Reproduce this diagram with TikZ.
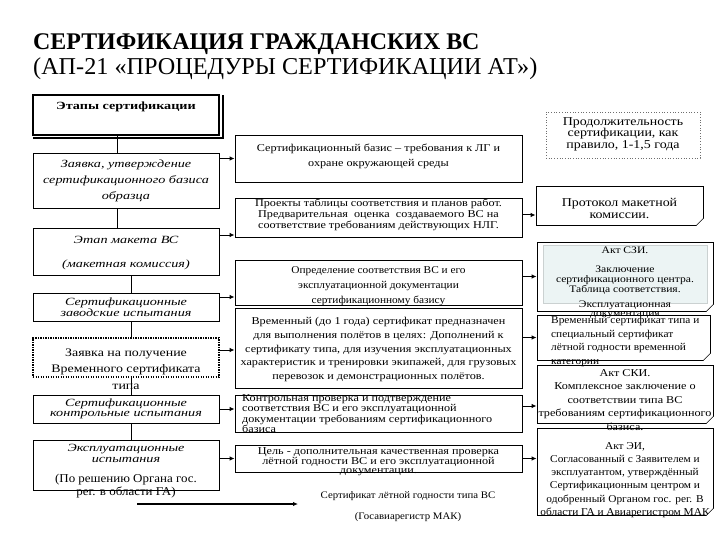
\documentclass[tikz,border=0pt]{standalone}
\usepackage{fontspec}
\setmainfont{Liberation Serif}
\newfontfamily\fa[FakeStretch=1.16]{Liberation Serif}
\newfontfamily\fb[FakeStretch=1.29]{Liberation Serif}
\newfontfamily\fc[FakeStretch=1.08]{Liberation Serif}
\newfontfamily\fd[FakeStretch=1.21]{Liberation Serif}
\usetikzlibrary{arrows.meta}
\definecolor{paleblue}{RGB}{236,244,244}
\definecolor{dotgray}{RGB}{110,110,110}
\begin{document}
\begin{tikzpicture}[x=1pt,y=-1pt,
  box/.style={draw, line width=0.8pt, inner sep=0pt},
  tx/.style={inner sep=0pt, align=center},
  lit/.style={tx, font=\fontsize{11}{16}\fb\itshape},
  mid/.style={tx, font=\fontsize{10.5}{15}\fa},
  rt/.style={tx, font=\fontsize{10.5}{13.5}\fa},
  link/.style={line width=0.8pt},
  arr/.style={line width=1pt, -{Latex[length=5pt,width=4.5pt]}},
  fold/.style={fill=white, line width=0.6pt}
]
\useasboundingbox (0,0) rectangle (720,540);

% title
\node[anchor=base west, inner sep=0pt, font=\fontsize{23.9}{24}\bfseries] (T1) at (33,50) {СЕРТИФИКАЦИЯ ГРАЖДАНСКИХ ВС};
\node[anchor=base west, inner sep=0pt, font=\fontsize{24.2}{24}\selectfont] (T2) at (33,75) {(АП-21 «ПРОЦЕДУРЫ СЕРТИФИКАЦИИ АТ»)};

% left column
\node[draw, line width=2.2pt, inner sep=0pt, minimum width=186, minimum height=40] (L0) at (126,115) {};
\draw[line width=2.2pt] ([xshift=1.5pt,yshift=-2pt]L0.south west) -- ([xshift=2.5pt,yshift=-2pt]L0.south east) -- ([xshift=2.5pt,yshift=-1pt]L0.north east);
\node[tx, font=\fontsize{11}{11}\fb\bfseries] (L0t) at (126,107) {Этапы сертификации};

\node[box, minimum width=186, minimum height=55] (L1) at (126,180.5) {};
\node[lit] (L1t) at (126,181) {Заявка, утверждение\\сертификационного базиса\\образца};

\node[box, minimum width=186, minimum height=47] (L2) at (126,251.5) {};
\node[lit] (L2a) at (126,240) {Этап макета ВС};
\node[lit] (L2b) at (126,265) {(макетная комиссия)};

\node[box, minimum width=186, minimum height=28] (L3) at (126,307) {};
\node[tx, font=\fontsize{11}{10.5}\fb\itshape] (L3t) at (126,307) {Сертификационные\\заводские испытания};

\node[draw, line width=1.7pt, dash pattern=on 1.4pt off 1.1pt, inner sep=0pt, minimum width=186, minimum height=39] (L4) at (126,357.5) {};
\node[tx, font=\fontsize{11.5}{16.5}\fd] (L4t) at (126,369) {Заявка на получение\\Временного сертификата\\типа};

\node[box, minimum width=186, minimum height=28] (L5) at (126,409) {};
\node[tx, font=\fontsize{11}{10.5}\fb\itshape] (L5t) at (126,409) {Сертификационные\\контрольные испытания};

\node[box, minimum width=186, minimum height=50] (L6) at (126,465) {};
\node[tx, font=\fontsize{11}{11}\fb\itshape] (L6a) at (126,453.5) {Эксплуатационные\\испытания};
\node[tx, font=\fontsize{12}{13}\fc] (L6b) at (126,486) {(По решению Органа гос.\\рег. в области ГА)};

\draw[link] ([xshift=-9pt]L0.south) -- ([xshift=-9pt]L1.north);
\draw[link] ([xshift=-9pt]L1.south) -- ([xshift=-9pt]L2.north);
\draw[link] ([xshift=5pt]L2.south) -- ([xshift=5pt]L3.north);
\draw[link] ([xshift=5pt]L3.south) -- ([xshift=5pt]L4.north);
\draw[link] ([xshift=5pt]L4.south) -- ([xshift=5pt]L5.north);
\draw[link] ([xshift=5pt]L5.south) -- ([xshift=5pt]L6.north);

% middle column
\node[box, minimum width=287, minimum height=47] (M1) at (378.5,158.5) {};
\node[mid] (M1t) at (378.5,156) {Сертификационный базис – требования к ЛГ и\\охране окружающей среды};

\node[box, minimum width=287, minimum height=39] (M2) at (378.5,217.5) {};
\node[tx, font=\fontsize{10.5}{11}\fa] (M2t) at (378.5,214.5) {Проекты таблицы соответствия и планов работ.\\Предварительная\ \ оценка\ \ создаваемого ВС на\\соответствие требованиям действующих НЛГ.};

\node[box, minimum width=287, minimum height=45] (M3) at (378.5,282.5) {};
\node[tx, font=\fontsize{10.5}{15}\fc] (M3t) at (378.5,286) {Определение соответствия ВС и его\\эксплуатационной документации\\сертификационному базису};

\node[box, minimum width=287, minimum height=80] (M4) at (378.5,348) {};
\node[tx, font=\fontsize{10.5}{13.8}\fa] (M4t) at (378.5,349.5) {Временный (до 1 года) сертификат предназначен\\для выполнения полётов в целях: Дополнений к\\сертификату типа, для изучения эксплуатационных\\характеристик и тренировки экипажей, для грузовых\\перевозок и демонстрационных полётов.};

\node[box, minimum width=287, minimum height=37] (M5) at (378.5,413.5) {};
\node[tx, align=left, anchor=west, font=\fontsize{10.5}{9.5}\fa] (M5t) at (242,414) {Контрольная проверка и подтверждение\\соответствия ВС и его эксплуатационной\\документации требованиям сертификационного\\базиса};

\node[box, minimum width=287, minimum height=27] (M6) at (378.5,458.5) {};
\node[tx, font=\fontsize{10.5}{9.5}\fa] (M6t) at (378.5,462) {Цель - дополнительная качественная проверка\\лётной годности ВС и его эксплуатационной\\документации.};

\node[tx, font=\fontsize{10}{10}\fc] (C1) at (408,496) {Сертификат лётной годности типа ВС};
\node[tx, font=\fontsize{10}{10}\fc] (C2) at (408,517) {(Госавиарегистр МАК)};

% right column
\node[draw=dotgray, dotted, line width=0.7pt, inner sep=0pt, minimum width=154, minimum height=46] (P) at (623,135) {};
\node[tx, font=\fontsize{12}{11.5}\fa] (Pt) at (623,134) {Продолжительность\\сертификации, как\\правило, 1-1,5 года};

\node[box, minimum width=167, minimum height=39] (Q) at (619.5,205.5) {};
\node[tx, font=\fontsize{12}{12}\fa] (Qt) at (619.5,208) {Протокол макетной\\комиссии.};

\node[box, minimum width=176, minimum height=69] (R1) at (625,276.5) {};
\node[fill=paleblue, draw=paleblue!70!gray, line width=0.4pt, inner sep=0pt, minimum width=164, minimum height=58] (R1i) at (625,274) {};
\node[tx, font=\fontsize{10}{10}\fa] (R1a) at (625,250) {Акт СЗИ.};
\node[tx, font=\fontsize{10}{10}\fa] (R1b) at (625,280) {Заключение\\сертификационного центра.\\Таблица соответствия.};

\node[box, minimum width=173, minimum height=45] (R2) at (623.5,337.5) {};
\node[tx, align=left, anchor=west, font=\fontsize{10.5}{13.7}\fc] (R2t) at (551,341.5) {Временный сертификат типа и\\специальный сертификат\\лётной годности временной\\категории};
\node[tx, font=\fontsize{10}{9}\fa] (R1c) at (625,309.5) {Эксплуатационная\\документация};

\node[box, minimum width=176, minimum height=58] (R3) at (625,394) {};
\node[rt] (R3t) at (625,400) {Акт СКИ.\\Комплексное заключение о\\соответствии типа ВС\\требованиям сертификационного\\базиса.};

\node[box, minimum width=176, minimum height=87] (R4) at (625,471.5) {};
\node[tx, font=\fontsize{10.5}{13.2}\fc] (R4t) at (625,480) {Акт ЭИ,\\Согласованный с Заявителем и\\эксплуатантом, утверждённый\\Сертификационным центром и\\одобренный Органом гос. рег. В\\области ГА и Авиарегистром МАК};

% folded corners
\foreach \n in {Q,R1,R2,R3,R4}{
  \fill[white] ([xshift=-7pt,yshift=-0.5pt]\n.south east) -- ([xshift=0.5pt,yshift=-0.5pt]\n.south east) -- ([xshift=0.5pt,yshift=7pt]\n.south east) -- cycle;
  \draw[fold] ([xshift=-7pt]\n.south east) -- ([yshift=7pt]\n.south east) -- ([xshift=-4pt,yshift=3pt]\n.south east) -- cycle;
}

% arrows left -> middle
\draw[arr] (M1.west -| L1.east) -- (M1.west);
\draw[arr] ([yshift=16.5pt]L2.east) -- ([yshift=16.5pt]L2.east -| M2.west);
\draw[arr] ([yshift=10pt]L3.east) -- ([yshift=10pt]L3.east -| M3.west);
\draw[arr] ([yshift=7.5pt]L4.east) -- ([yshift=7.5pt]L4.east -| M4.west);
\draw[arr] (L5.east) -- (L5.east -| M5.west);
\draw[arr] (M6.west -| L6.east) -- (M6.west);

% arrows middle -> right
\draw[arr] ([yshift=2.5pt]M2.east) -- ([yshift=2.5pt]M2.east -| Q.west);
\draw[arr] (R1.west -| M3.east) -- (R1.west);
\draw[arr] (R2.west -| M4.east) -- (R2.west);
\draw[arr] ([yshift=7.5pt]M5.east) -- ([yshift=7.5pt]M5.east -| R3.west);
\draw[arr] (M6.east) -- (M6.east -| R4.west);

% bottom arrow
\coordinate (B0) at (137,504);
\coordinate (B1) at (298,504);
\draw[arr, line width=1.3pt] (B0) -- (B1);
\end{tikzpicture}
\end{document}
